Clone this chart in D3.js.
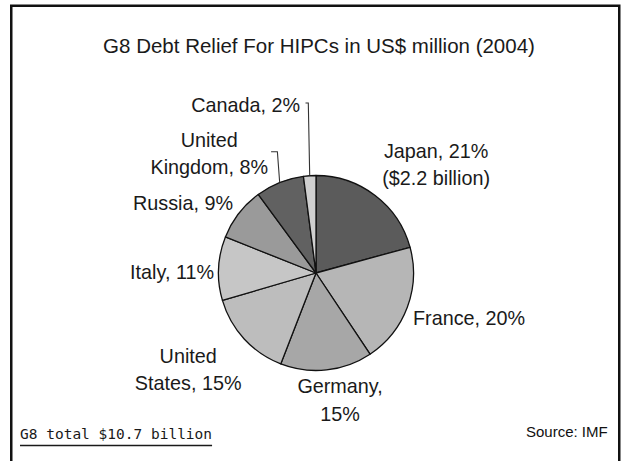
<!DOCTYPE html>
<html>
<head>
<meta charset="utf-8">
<script src="https://cdn.jsdelivr.net/npm/d3@7/dist/d3.min.js"></script>
<style>
  html, body { margin: 0; padding: 0; background: #fff; }
  svg { display: block; }
</style>
</head>
<body>
<svg id="chart" width="621" height="461"></svg>
<script>
// ---- data (US$ million, 2004) ----
const countries = ["Japan", "France", "Germany", "United States", "Italy", "Russia", "United Kingdom", "Canada"];
const reliefValues = [2220, 2130, 1630, 1560, 1130, 950, 860, 220];
const totalBillion = 10.7;
const titleText = "G8 Debt Relief For HIPCs in US$ million (2004)";
const sourceText = "Source: IMF";

// ---- styles ----
const sliceColors = ["#5b5b5b", "#b6b6b6", "#a7a7a7", "#bdbdbd", "#c6c6c6", "#9a9a9a", "#616161", "#cfcfcf"];

// label layout relative to the rim point at each slice's mid angle
const labelLayout = {
  "Japan":          { anchor: "middle", dx: 61,   dy: -37.5, lh: 27 },
  "France":         { anchor: "start",  dx: 5.7,  dy: 18,    lh: 27 },
  "Germany":        { anchor: "middle", dx: 13.5, dy: 23,    lh: 28.5 },
  "United States":  { anchor: "middle", dx: -56,  dy: 24,    lh: 27 },
  "Italy":          { anchor: "end",    dx: -4.6, dy: 10.6,  lh: 27 },
  "Russia":         { anchor: "end",    dx: -5.8, dy: -3.4,  lh: 27 },
  "United Kingdom": { anchor: "end",    dx: -11.6, dy: -35.5, lh: 27, leader: [[-2.3, -30.8], [-8.6, -30.8]] },
  "Canada":         { anchor: "end",    dx: -9.7, dy: -63.7, lh: 27, leader: [[-1.4, -72.7], [-4.2, -72.7]] }
};

const W = 621, H = 461;
const cx = 316, cy = 273, R = 97.5;
const labelFont = "'Liberation Sans', Arial, Helvetica, sans-serif";

const svg = d3.select("#chart");

// frame
svg.append("rect")
  .attr("x", 11.25).attr("y", 5.75)
  .attr("width", 608).attr("height", 480)
  .attr("fill", "#fff").attr("stroke", "#111").attr("stroke-width", 2.5);

// title
svg.append("text")
  .attr("x", 319).attr("y", 53)
  .attr("text-anchor", "middle")
  .attr("font-family", labelFont).attr("font-size", 20.5)
  .attr("fill", "#1a1a1a")
  .text(titleText);

const total = d3.sum(reliefValues);
const data = countries.map((c, i) => ({ name: c, value: reliefValues[i], color: sliceColors[i] }));

const pie = d3.pie().sort(null).value(d => d.value);
const arcs = pie(data);
const arc = d3.arc().innerRadius(0).outerRadius(R);
const rimArc = d3.arc().innerRadius(R).outerRadius(R);

const g = svg.append("g").attr("transform", `translate(${cx},${cy})`);

g.selectAll("path.slice")
  .data(arcs)
  .enter().append("path")
  .attr("class", "slice")
  .attr("d", arc)
  .attr("fill", d => d.data.color)
  .attr("stroke", "#111")
  .attr("stroke-width", 1.3)
  .attr("stroke-linejoin", "round");

// labels
function labelLines(d) {
  const pct = Math.round(d.data.value / total * 100) + "%";
  const name = d.data.name;
  if (name === "Japan") return [name + ", " + pct, "($" + (d.data.value / 1000).toFixed(1) + " billion)"];
  if (name === "Germany") return [name + ",", pct];
  if (name === "United States") return ["United", "States, " + pct];
  if (name === "United Kingdom") return ["United", "Kingdom, " + pct];
  return [name + ", " + pct];
}

arcs.forEach(d => {
  const lay = labelLayout[d.data.name];
  const mid = (d.startAngle + d.endAngle) / 2;
  const rx = R * Math.sin(mid), ry = -R * Math.cos(mid);

  if (lay.leader) {
    const pts = [[rx, ry]].concat(lay.leader.map(p => [rx + p[0], ry + p[1]]));
    g.append("path")
      .attr("d", d3.line()(pts))
      .attr("fill", "none").attr("stroke", "#333").attr("stroke-width", 1.1);
  }

  const lines = labelLines(d);
  const ax = rx + lay.dx, ay = ry + lay.dy;
  const t = g.append("text")
    .attr("font-family", labelFont).attr("font-size", 19.8)
    .attr("fill", "#1a1a1a")
    .attr("text-anchor", "middle");
  const spans = lines.map((ln, i) => t.append("tspan").attr("y", ay + i * lay.lh).text(ln));
  const maxW = d3.max(spans, s => s.node().getComputedTextLength());
  let centerX = ax;
  if (lay.anchor === "end") centerX = ax - maxW / 2;
  if (lay.anchor === "start") centerX = ax + maxW / 2;
  spans.forEach(s => s.attr("x", centerX));
});

// total note (underlined)
const note = svg.append("text")
  .attr("x", 20).attr("y", 439)
  .attr("font-family", "'DejaVu Sans Mono', monospace").attr("font-size", 14.5)
  .attr("fill", "#1a1a1a")
  .text("G8 total $" + totalBillion.toFixed(1) + " billion");
const noteW = note.node().getComputedTextLength();
svg.append("line")
  .attr("x1", 20).attr("x2", 20 + noteW)
  .attr("y1", 445.5).attr("y2", 445.5)
  .attr("stroke", "#1a1a1a").attr("stroke-width", 1.3);

// source
svg.append("text")
  .attr("x", 526).attr("y", 437)
  .attr("font-family", labelFont).attr("font-size", 15)
  .attr("fill", "#111")
  .text(sourceText);
</script>
</body>
</html>
